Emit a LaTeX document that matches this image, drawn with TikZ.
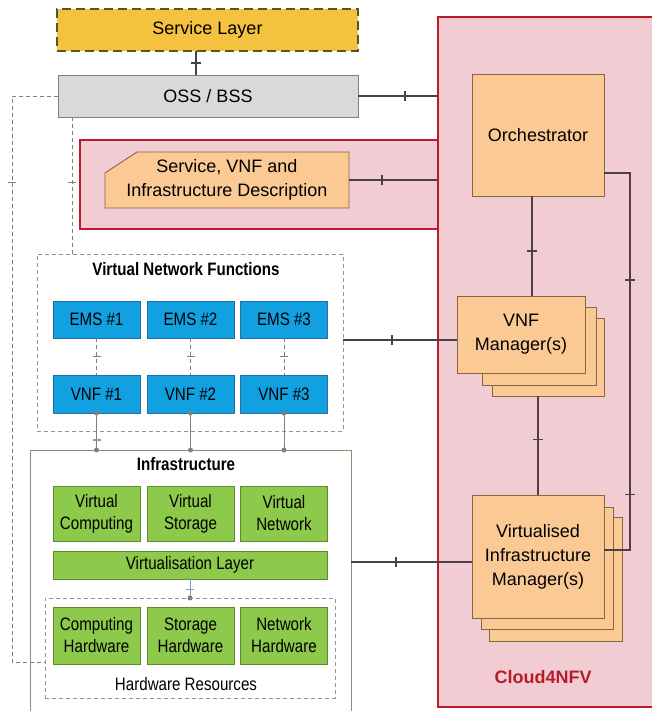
\documentclass[tikz,border=0pt]{standalone}
\usepackage{fontspec}
\setmainfont{Liberation Sans}
\newfontfamily\condfont[FakeStretch=0.84]{Liberation Sans}
\usetikzlibrary{decorations.markings}

\definecolor{layeryellow}{HTML}{F4C23E}
\definecolor{layerolive}{HTML}{4E5A20}
\definecolor{ossgray}{HTML}{D9D9D9}
\definecolor{cloudpink}{HTML}{F1CCD3}
\definecolor{cloudred}{HTML}{B81C28}
\definecolor{mgrorange}{HTML}{FBC994}
\definecolor{mgrborder}{HTML}{86683E}
\definecolor{vnfblue}{HTML}{11A0E0}
\definecolor{vnfborder}{HTML}{2B6E99}
\definecolor{infgreen}{HTML}{8DC94A}
\definecolor{infborder}{HTML}{5C8A2C}
\definecolor{linkdark}{HTML}{4A4046}
\definecolor{tickblue}{HTML}{7D9CC8}

\begin{document}
\begin{tikzpicture}[x=1pt,y=-1pt,
    every node/.style={font=\fontsize{18}{24}\selectfont,align=center,inner sep=0pt,outer sep=0pt},
    cond/.style={font=\condfont\fontsize{18}{22}\selectfont},
    condbold/.style={font=\condfont\bfseries\fontsize{18}{22}\selectfont},
    mgr/.style={draw=mgrborder,fill=mgrorange,line width=0.9pt},
    emsbox/.style={cond,draw=vnfborder,fill=vnfblue,line width=0.9pt,minimum width=87pt,minimum height=37pt},
    greenbox/.style={cond,draw=infborder,fill=infgreen,line width=0.9pt,minimum width=87pt,minimum height=55pt},
    group/.style={draw=gray!85,dash pattern=on 4pt off 3pt,line width=0.8pt},
    link/.style={draw=linkdark,line width=1.8pt},
    thinlink/.style={draw=gray,line width=1pt},
    dashlink/.style={draw=gray,line width=0.8pt,dash pattern=on 4pt off 3pt},
    midtick/.style={decoration={markings,mark=at position #1 with {\draw[solid,linkdark,line width=1.8pt] (0,-5pt) -- (0,5pt);}},postaction=decorate},
    smalltick/.style={decoration={markings,mark=at position #1 with {\draw[solid,gray,line width=0.8pt] (0,-4pt) -- (0,4pt);}},postaction=decorate},
    bluetick/.style={decoration={markings,mark=at position #1 with {\draw[solid,tickblue,line width=1.2pt] (0,-4pt) -- (0,4pt);}},postaction=decorate},
    dot/.style={circle,fill=gray,minimum size=5pt}]
\useasboundingbox (0,0) rectangle (651,711);

% NFV framework on the right
\draw[fill=cloudpink,draw=cloudred,line width=2pt] (80,140) rectangle (438,229);
\draw[fill=cloudpink,draw=cloudred,line width=2pt] (438,17) rectangle (660,707);
\node[text=cloudred,font=\bfseries\fontsize{18}{22}\selectfont] (cloudlabel) at (543,677) {Cloud4NFV};

\node[fill=layeryellow,draw=layerolive,line width=2.8pt,dash pattern=on 9pt off 5pt,minimum width=301pt,minimum height=42pt] (service) at (207.5,30) {Service Layer};
\node[fill=ossgray,draw=gray,line width=0.9pt,minimum width=300pt,minimum height=42pt] (oss) at (208,96) {OSS / BSS};

\draw[mgr] (105,173) -- (137,152) -- (349,152) -- (349,208) -- (105,208) -- cycle;
\node[minimum width=244pt,minimum height=56pt] (desc) at (227,180) {Service, VNF and\\Infrastructure Description};

\node[mgr,minimum width=132pt,minimum height=122pt] (orch) at (538,135) {Orchestrator};

\draw[mgr] (492,318) rectangle (604,396);
\draw[mgr] (482,307) rectangle (596,385);
\node[mgr,minimum width=128pt,minimum height=77pt] (vnfm) at (521,334.5) {VNF\\Manager(s)};

\draw[mgr] (489,517) rectangle (622,641);
\draw[mgr] (481,507) rectangle (613,629);
\node[mgr,minimum width=132pt,minimum height=123pt] (vim) at (538,556.5) {Virtualised\\Infrastructure\\Manager(s)};

\coordinate (orchbend) at (630,173);
\coordinate (vimbend) at (630,550);

% virtual network functions
\node[group,minimum width=306pt,minimum height=177pt] (vnfgroup) at (190,342.5) {};
\node[condbold] (vnftitle) at (186,269) {Virtual Network Functions};
\node[emsbox] (ems1) at (96.5,319.5) {EMS \#1};
\node[emsbox] (ems2) at (190.5,319.5) {EMS \#2};
\node[emsbox] (ems3) at (284,319.5) {EMS \#3};
\node[emsbox,minimum height=38pt] (vnf1) at (96.5,394) {VNF \#1};
\node[emsbox,minimum height=38pt] (vnf2) at (190.5,394) {VNF \#2};
\node[emsbox,minimum height=38pt] (vnf3) at (284,394) {VNF \#3};

% infrastructure
\node[draw=gray!80!olive,line width=1pt,minimum width=321pt,minimum height=280pt] (infra) at (190.5,590) {};
\node[condbold] (infratitle) at (186,464) {Infrastructure};
\node[greenbox] (vcomp) at (96.5,513.5) {Virtual\\Computing};
\node[greenbox] (vstor) at (190.5,513.5) {Virtual\\Storage};
\node[greenbox] (vnet) at (284,513.5) {Virtual\\Network};
\node[greenbox,minimum width=274pt,minimum height=28pt] (vlayer) at (190,565) {Virtualisation Layer};
\node[group,minimum width=290pt,minimum height=100pt] (hwgroup) at (190,648) {};
\node[cond] (hwtitle) at (186,684) {Hardware Resources};
\node[greenbox,minimum height=57pt] (hcomp) at (96.5,635.5) {Computing\\Hardware};
\node[greenbox,minimum height=57pt] (hstor) at (190.5,635.5) {Storage\\Hardware};
\node[greenbox,minimum height=57pt] (hnet) at (284,635.5) {Network\\Hardware};

% reference points
\draw[link,midtick=0.5] (service.south -| 196,0) -- (oss.north -| 196,0);
\draw[link,midtick=0.59] (oss.east) -- (oss.east -| 438,0);
\draw[link,midtick=0.37] (desc.east) -- (desc.east -| 438,0);
\draw[link,midtick=0.55] ([xshift=-6pt]orch.south) -- ([xshift=-6pt]orch.south |- vnfm.north);
\draw[link,midtick=0.44] (vim.north |- 0,396) -- (vim.north);
\draw[link,midtick=0.31,midtick=0.81] (orch.east |- orchbend) -- (orchbend) -- (vimbend) -- (vim.east |- vimbend);
\draw[link,midtick=0.43] (vnfgroup.east |- 0,340) -- (vnfm.west |- 0,340);
\draw[link,midtick=0.37] (infra.east |- 0,562) -- (vim.west |- 0,562);

\draw[dashlink,smalltick=0.206] (oss.west) -| (12,662) -- (hwgroup.west |- 0,662);
\draw[dashlink,smalltick=0.48] (oss.south -| 72,0) -- (vnfgroup.north -| 72,0);
\foreach \i in {1,2,3} {
  \draw[dashlink,smalltick=0.5] (ems\i) -- (vnf\i);
  \draw[thinlink] (vnf\i.south) -- (vnf\i.south |- infra.north);
  \node[dot] (top\i) at (vnf\i.south) {};
  \node[dot] (bot\i) at (vnf\i.south |- infra.north) {};
}
\draw[draw=none,bluetick=0.73] (vnf1.south) -- (vnf1.south |- infra.north);
\draw[draw=tickblue,line width=1pt,bluetick=0.55] (vlayer.south) -- (vlayer.south |- hwgroup.north);
\node[dot] (hwdot) at (vlayer.south |- hwgroup.north) {};
\end{tikzpicture}
\end{document}
